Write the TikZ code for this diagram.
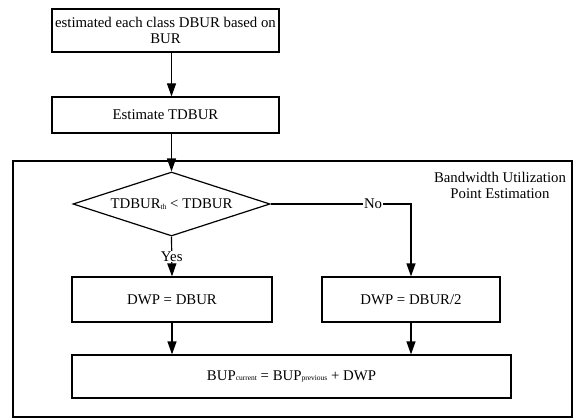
\documentclass[tikz,border=0pt]{standalone}
\usepackage{fontspec}
\setmainfont{Liberation Serif}
\usetikzlibrary{shapes.geometric,arrows.meta}
\tikzstyle{arrow} = [line width=1.2pt,->,>={Stealth[length=13pt,width=9pt,inset=0pt]}]
\tikzstyle{procbox} = [draw, line width=1.2pt, inner sep=2pt, align=center]
\tikzstyle{decision} = [draw, line width=1.2pt, diamond, aspect=3, inner sep=1pt, minimum width=197pt, minimum height=64pt]
\newcommand{\lowidx}[1]{\raisebox{-0.5pt}{\fontsize{7.5}{7.5}\selectfont #1}}

\begin{document}
\begin{tikzpicture}[x=1pt, y=-1pt, font=\fontsize{14.8}{16}\selectfont]
  \useasboundingbox (0,0) rectangle (576,420);
  % outer block
  \node[draw, line width=1.2pt, minimum width=559pt, minimum height=256pt] (bupe) at (292.5,289) {};
  \node[align=center] (bupelabel) at (500,185) {Bandwidth Utilization\\Point Estimation};
  % steps
  \node[procbox, minimum width=227pt, minimum height=43pt] (est) at (165.5,30.5) {estimated each class DBUR based on\\BUR};
  \node[procbox, minimum width=227pt, minimum height=36pt] (tdbur) at (165.5,115) {Estimate TDBUR};
  \node[decision] (dia) at (171.5,204) {TDBUR\lowidx{th} < TDBUR};
  \node[procbox, minimum width=200pt, minimum height=45pt] (dwpfull) at (172,299.5) {DWP = DBUR};
  \node[procbox, minimum width=178pt, minimum height=45pt] (dwphalf) at (411,299.5) {DWP = DBUR/2};
  \node[procbox, minimum width=439pt, minimum height=43pt] (bup) at (291.5,376.5) {BUP\lowidx{current} = BUP\lowidx{previous} + DWP};
  % connectors
  \draw[arrow] (est.south -| dia.north) -- (tdbur.north -| dia.north);
  \draw[arrow] (tdbur.south -| dia.north) -- (dia.north);
  \draw[arrow] (dia.south) -- node[fill=white, inner sep=1pt] {Yes} (dwpfull.north);
  \draw[arrow] (dia.east) -- node[pos=0.73, fill=white, inner sep=1pt] {No} (dia.east -| dwphalf.north) -- (dwphalf.north);
  \draw[arrow] (dwpfull.south) -- (dwpfull.south |- bup.north);
  \draw[arrow] (dwphalf.south) -- (dwphalf.south |- bup.north);
\end{tikzpicture}
\end{document}
